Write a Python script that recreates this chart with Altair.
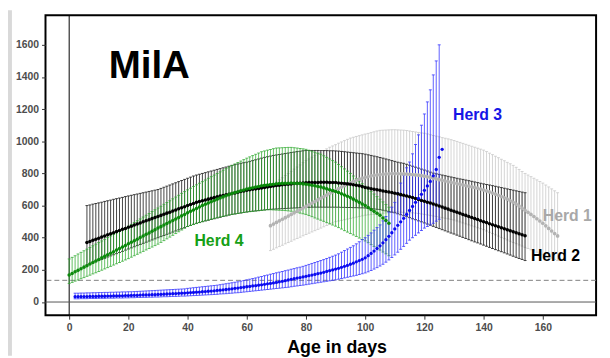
import altair as alt
import pandas as pd

X_TICKS = [0, 20, 40, 60, 80, 100, 120, 140, 160]
Y_TICKS = [0, 200, 400, 600, 800, 1000, 1200, 1400, 1600]
CUTOFF = 135

# Herd 4 (green), day 0 onwards
H4_START = 0
H4_MEAN = [168,178,188,197,207,217,226,236,246,255,265,
           275,284,294,304,313,323,333,342,352,362,
           372,381,391,401,411,421,430,440,450,460,
           469,479,488,498,507,517,526,536,545,555,
           564,573,582,591,600,608,616,624,632,640,
           647,654,661,668,675,681,686,692,697,703,
           707,711,715,719,723,726,728,731,733,736,
           737,738,739,739,740,739,738,737,735,733,
           730,726,723,719,715,710,704,699,693,688,
           681,673,666,658,650,640,630,620,610,600,
           588,576,564,552,540,523,507,490]
H4_HI = [268,278,288,299,309,319,329,339,350,360,370,
         380,390,401,411,421,431,441,452,462,472,
         483,495,506,517,529,540,551,563,574,585,
         596,608,619,630,642,653,664,676,687,698,
         708,719,729,739,749,759,770,780,790,800,
         810,820,830,840,850,859,868,877,886,895,
         903,911,919,927,935,940,945,949,954,958,
         959,960,961,962,962,960,958,955,953,950,
         944,938,932,926,920,910,900,890,880,870,
         856,842,828,814,800,784,768,752,736,720,
         704,688,672,656,640,623,607,590]
H4_LO = [115,122,130,137,145,152,160,167,175,182,190,
         198,206,214,222,230,238,246,254,262,270,
         279,288,297,306,315,324,333,342,351,360,
         371,382,393,404,415,426,437,448,459,470,
         476,482,488,494,500,505,510,515,520,525,
         529,533,537,541,545,548,551,554,557,560,
         562,564,566,568,570,572,574,
         574,573,572,571,570,569,567,565,
         561,557,553,549,545,
         538,531,523,516,509,502,494,487,479,472,
         463,454,444,435,426,417,408,398,389,380,
         369,357,346,334,323,311,300,288]

# Herd 2 (black), day 6 onwards
H2_START = 6
H2_MEAN = [370,377,384,390,397,404,411,418,424,431,
           438,445,452,458,465,472,479,485,492,499,
           506,512,519,526,532,539,546,553,559,566,
           573,580,587,593,600,607,613,620,
           625,630,635,640,645,650,655,
           659,663,667,671,675,679,683,687,691,695,
           698,701,704,707,710,713,716,719,722,725,
           727,729,731,733,735,737,738,739,740,742,
           743,743,744,744,745,745,745,744,744,743,
           741,739,737,735,733,730,727,723,718,712,
           709,705,702,698,695,691,688,684,681,677,
           673,668,664,660,655,
           650,644,638,632,627,621,616,610,
           604,597,591,584,578,571,565,
           558,552,545,539,532,526,519,513,506,500,
           494,487,481,475,468,462,456,450,443,437,431,425,418,412]
H2_HI = [600,604,609,613,617,621,626,630,634,639,
         643,647,651,656,660,
         664,668,672,676,680,684,688,692,696,700,
         707,714,721,728,735,742,749,756,763,770,777,784,790,
         795,800,805,810,815,820,825,830,835,840,845,850,855,859,863,867,870,
         875,880,885,890,895,900,904,908,912,915,
         918,921,924,927,930,933,936,938,941,943,
         943,943,943,943,942,942,942,941,941,940,
         939,937,935,933,931,929,927,925,923,920,
         916,912,908,904,899,895,890,885,880,875,870,866,863,
         857,851,845,839,833,827,821,815,808,802,
         798,794,790,786,782,778,774,770,766,763,759,755,751,747,743,739,
         735,731,728,724,720,716,712,708,704,700,696,692,688,684,680]
H2_LO = [230,237,244,251,258,265,272,280,287,294,301,308,315,323,330,
         337,344,351,358,365,372,379,386,393,400,
         407,414,421,428,435,442,449,456,463,470,477,484,490,
         495,500,505,509,514,518,523,527,532,536,541,545,
         548,551,554,557,560,563,565,567,569,571,573,575,
         577,578,579,580,581,582,583,584,585,586,587,588,589,
         589,590,590,590,590,590,590,590,590,590,
         590,589,589,588,588,587,587,586,586,585,
         583,581,579,577,575,571,567,563,559,555,
         549,543,537,531,525,518,512,505,499,492,
         485,478,471,464,
         457,450,443,436,429,423,416,409,402,395,388,381,374,368,361,
         354,347,340,333,326,319,313,306,299,292,285,278,271,265,258]

# Herd 1 (grey), day 68 onwards
H1_START = 68
H1_MEAN = [475,485,495,505,515,525,535,545,555,565,575,
           585,595,605,615,625,635,645,655,665,675,
           685,695,705,715,724,733,742,750,758,765,
           771,776,781,785,788,791,793,795,797,798,
           799,799,799,798,797,796,795,793,791,789,
           786,783,779,775,771,766,761,757,753,749,
           745,741,737,733,729,725,721,717,713,708,
           703,697,691,685,678,671,664,656,648,640,
           630,620,609,597,584,571,558,545,532,518,
           504,490,474,458,442,426,411]
H1_HI = [720,734,747,760,
         773,787,800,813,827,840,853,867,880,
         890,901,911,922,932,942,953,963,
         971,979,988,996,1004,1012,1020,
         1025,1030,1035,1040,1045,1049,1054,1059,1064,1068,
         1069,1070,1071,1072,1072,
         1071,1070,1069,1067,1064,1061,1058,1055,1052,1050,
         1046,1041,1036,1032,1028,1023,1019,1015,1010,1005,
         999,993,987,981,975,969,963,957,951,945,
         936,926,917,907,898,888,879,869,860,850,
         838,825,812,800,790,780,770,760,750,740,
         728,716,704,692,680]
H1_LO = [320,328,337,345,353,362,370,378,387,395,403,412,420,
         428,436,444,452,460,468,476,484,492,500,
         504,508,512,516,520,524,528,532,536,540,
         542,544,546,548,550,552,554,556,558,560,
         560,559,558,557,556,555,553,551,548,545,
         542,539,535,532,528,525,521,518,514,510,
         504,498,492,486,480,474,468,462,456,450,
         442,434,426,418,410,402,394,386,378,370,
         363,355,348,340,333,325,318,310,303,295,288,280,273,265,258]

# Herd 3 (blue), day 2 onwards
H3_START = 2
H3_MEAN = [33,33,34,34,34,35,35,35,36,36,
           36,37,37,38,38,39,39,40,40,41,
           42,42,43,44,44,45,46,46,47,48,
           49,50,51,52,53,54,55,56,57,59,
           60,61,62,64,65,67,68,70,72,74,
           76,78,80,82,85,87,90,92,95,97,
           100,102,105,107,110,113,116,119,122,126,
           129,133,137,141,145,149,152,156,160,164,
           168,172,176,180,185,190,195,200,205,210,
           216,222,228,235,242,250,258,266,275,288,
           302,317,333,350,368,388,409,431,455,477,
           499,521,545,570,595,620,645,670,695,722,
           750,785,825,900,950]
H3_HI = [55,55,56,56,57,57,58,58,59,59,
         60,60,61,61,62,62,63,63,64,64,
         65,66,67,68,69,70,71,72,73,74,
         75,76,77,78,79,80,81,82,85,87,
         89,91,93,95,97,99,101,103,105,108,
         111,114,117,120,123,126,130,134,138,142,
         146,150,155,159,164,168,173,177,182,186,
         190,195,199,204,208,213,217,222,228,234,
         240,246,252,258,264,271,278,285,292,300,
         310,320,330,340,350,362,375,388,400,415,
         430,447,463,480,505,532,560,590,620,680,
         740,790,835,871,922,980,1040,1100,1170,1245,
         1320,1413,1500,1600]
H3_LO = [20,20,21,21,21,22,22,22,23,23,
         23,24,24,24,25,25,25,26,26,27,
         27,28,28,29,29,30,30,31,31,32,
         33,33,34,35,35,36,37,37,38,39,
         40,41,42,43,44,45,46,47,48,50,
         51,52,54,55,57,58,60,62,64,66,
         68,70,72,74,76,78,80,82,84,86,
         88,90,92,95,98,100,103,105,108,111,
         114,117,120,123,126,129,132,135,138,142,
         146,150,154,158,162,166,171,176,181,188,
         196,205,214,224,235,248,262,277,293,310,
         328,346,365,385,400,415,430,445,460,470,
         480,490,503,515]

FONT = "Liberation Sans"

X_ENC = alt.X("day:Q", scale=alt.Scale(domain=[-8, 178], nice=False, zero=False),
              axis=alt.Axis(values=X_TICKS, format="d", title="Age in days", grid=False,
                            domain=False, tickSize=4, tickColor="#333333", labelPadding=3,
                            labelFontSize=10.5, labelFontWeight="bold", labelColor="#4d4d4d",
                            labelFont=FONT, titleFont=FONT, titleFontSize=18,
                            titleFontWeight="bold", titleColor="black",
                            titleX=295, titleY=38, titleBaseline="alphabetic",
                            titleAlign="center"))
Y_SCALE = alt.Scale(domain=[-82, 1784], nice=False, zero=False)
Y_AXIS = alt.Axis(values=Y_TICKS, format="d", title=None, grid=False, domain=False, tickSize=4,
                  tickColor="#333333", labelPadding=3, labelFontSize=10.5,
                  labelFontWeight="bold", labelColor="#4d4d4d", labelFont=FONT)


def bar_frame(start, lo, hi):
    n = min(len(lo), len(hi))
    return pd.DataFrame({"day": [start + i for i in range(n)], "v": lo[:n], "v2": hi[:n]})


def pt_frame(start, mean):
    return pd.DataFrame({"day": [start + i for i in range(len(mean))], "v": mean})


def bars(start, lo, hi, color, opacity):
    df = bar_frame(start, lo, hi)
    base = alt.Chart(df)
    r = base.mark_rule(color=color, opacity=opacity, strokeWidth=1).encode(
        x=X_ENC, y=alt.Y("v:Q", scale=Y_SCALE, axis=Y_AXIS), y2="v2:Q")
    t1 = base.mark_tick(color=color, opacity=opacity, orient="horizontal", size=3,
                        thickness=1).encode(x=X_ENC, y=alt.Y("v:Q", scale=Y_SCALE, axis=Y_AXIS))
    t2 = base.mark_tick(color=color, opacity=opacity, orient="horizontal", size=3,
                        thickness=1).encode(x=X_ENC, y=alt.Y("v2:Q", scale=Y_SCALE, axis=Y_AXIS))
    return [r, t1, t2]


def dots(start, mean, color, size):
    return alt.Chart(pt_frame(start, mean)).mark_circle(color=color, opacity=1, size=size).encode(
        x=X_ENC, y=alt.Y("v:Q", scale=Y_SCALE, axis=Y_AXIS))


one = pd.DataFrame({"day": [0], "v": [0], "c": [CUTOFF]})

strip = alt.Chart(one).mark_rect(color="#d9d9d9").encode(
    x=alt.value(-38), x2=alt.value(-34), y=alt.value(-5), y2=alt.value(345))

vline = alt.Chart(one).mark_rule(color="black", strokeWidth=1).encode(x=X_ENC)
hline = alt.Chart(one).mark_rule(color="#555555", strokeWidth=1).encode(
    y=alt.Y("v:Q", scale=Y_SCALE, axis=Y_AXIS))
dline = alt.Chart(one).mark_rule(color="#808080", strokeWidth=1, strokeDash=[5, 3]).encode(
    y=alt.Y("c:Q", scale=Y_SCALE, axis=Y_AXIS))

layers = [strip, vline, hline, dline]
layers += bars(H1_START, H1_LO, H1_HI, "#c9c9c9", 0.8)
layers += bars(H2_START, H2_LO, H2_HI, "#222222", 0.85)
layers += bars(H4_START, H4_LO, H4_HI, "#2ca82c", 0.75)
layers += bars(H3_START, H3_LO, H3_HI, "#3535ff", 0.8)
layers += [dots(H1_START, H1_MEAN, "#b3b3b3", 14),
           dots(H2_START, H2_MEAN, "#000000", 13),
           dots(H4_START, H4_MEAN, "#0b8a0b", 13),
           dots(H3_START, H3_MEAN, "#0b0bf0", 11)]


def label(text, px, py, color, size):
    return alt.Chart(one).mark_text(text=text, align="left", baseline="alphabetic", font=FONT,
                                    fontWeight="bold", fontSize=size, color=color).encode(
        x=alt.value(px), y=alt.value(py))


layers += [label("MilA", 64, 64, "black", 39),
           label("Herd 3", 413, 106, "#1515e6", 16),
           label("Herd 4", 151, 234, "#16a016", 16),
           label("Herd 1", 504, 209, "#a8a8a8", 16),
           label("Herd 2", 492, 249, "black", 16)]

chart = alt.layer(*layers).properties(
    width=558, height=304,
    padding={"left": 38, "top": 5, "right": 6, "bottom": 40},
    autosize=alt.AutoSizeParams(type="none"),
    background="white",
).configure_view(stroke="black", strokeWidth=2)

chart.save("out.html", embed_options={"renderer": "svg", "actions": False})
